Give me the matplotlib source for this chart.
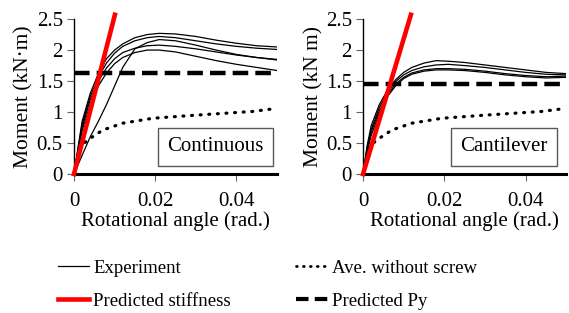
import numpy as np
import matplotlib
matplotlib.use("Agg")
import matplotlib.pyplot as plt
from matplotlib.lines import Line2D

plt.rcParams['font.family'] = ['Liberation Serif', 'DejaVu Serif']

# continuous beam experiments (rotation rad, moment kN.m)
x_cont = [0, 0.002, 0.004, 0.006, 0.008, 0.010, 0.012, 0.015, 0.018,
          0.021, 0.025, 0.030, 0.035, 0.040, 0.045, 0.050]
cont_a = [0, 0.85, 1.30, 1.62, 1.86, 2.00, 2.10, 2.20, 2.25, 2.27, 2.26, 2.22, 2.16, 2.11, 2.07, 2.05]
cont_b = [0, 0.80, 1.25, 1.56, 1.79, 1.95, 2.06, 2.15, 2.20, 2.22, 2.20, 2.15, 2.10, 2.06, 2.03, 2.01]
cont_c = [0, 0.30, 0.60, 0.85, 1.12, 1.42, 1.72, 2.02, 2.12, 2.17, 2.15, 2.08, 2.00, 1.93, 1.88, 1.84]
cont_d = [0, 0.75, 1.20, 1.50, 1.71, 1.86, 1.96, 2.03, 2.07, 2.08, 2.06, 2.02, 1.97, 1.92, 1.88, 1.85]
cont_e = [0, 0.70, 1.12, 1.42, 1.63, 1.78, 1.88, 1.96, 2.00, 2.00, 1.97, 1.90, 1.83, 1.77, 1.72, 1.67]

# cantilever experiments
x_cant = [0, 0.001, 0.002, 0.004, 0.006, 0.008, 0.010, 0.012, 0.015, 0.018,
          0.021, 0.025, 0.030, 0.035, 0.040, 0.045, 0.050]
cant_a = [0, 0.45, 0.78, 1.12, 1.35, 1.52, 1.64, 1.72, 1.79, 1.83, 1.82, 1.80, 1.76, 1.72, 1.68, 1.64, 1.62]
cant_b = [0, 0.42, 0.72, 1.07, 1.32, 1.49, 1.60, 1.67, 1.73, 1.76, 1.77, 1.75, 1.72, 1.68, 1.64, 1.61, 1.60]
cant_c = [0, 0.38, 0.68, 1.02, 1.28, 1.45, 1.56, 1.63, 1.68, 1.70, 1.70, 1.69, 1.66, 1.62, 1.59, 1.57, 1.58]
cant_d = [0, 0.35, 0.62, 0.98, 1.25, 1.42, 1.54, 1.61, 1.66, 1.68, 1.68, 1.67, 1.64, 1.60, 1.57, 1.55, 1.56]

# average without screw (same in both panels)
x_noscrew = [0, 0.0015, 0.0034, 0.0071, 0.012, 0.0194, 0.0236, 0.030, 0.037, 0.044, 0.050]
m_noscrew = [0, 0.44, 0.55, 0.71, 0.82, 0.90, 0.92, 0.95, 0.98, 1.01, 1.06]

# predicted values
k_cont, k_cant = 255, 218       # initial stiffness kN.m/rad
py_cont, py_cant = 1.63, 1.46   # predicted yield moment kN.m

panels = [
    ("Continuous", "Moment (kN·m)", x_cont, [cont_a, cont_b, cont_c, cont_d, cont_e], k_cont, py_cont),
    ("Cantilever", "Moment (kN m)", x_cant, [cant_a, cant_b, cant_c, cant_d], k_cant, py_cant),
]

fig = plt.figure(figsize=(5.69, 3.13), dpi=100)
lefts = [0.130, 0.638]

for (name, ylab, xs, curves, k, py), left in zip(panels, lefts):
    ax = fig.add_axes([left, 0.444, 0.357, 0.495])
    for c in curves:
        ax.plot(xs, c, color='black', lw=0.9)
    ax.plot(x_noscrew, m_noscrew, color='black', lw=2.3, linestyle=(0, (0.3, 2.4)),
            dash_capstyle='round')
    ax.plot([0, 0.05], [py, py], color='black', lw=3.2, linestyle=(0, (3.5, 1.6)))
    ymax = 2.57
    ax.plot([0, ymax / k], [0, ymax], color='red', lw=3.3, clip_on=False, zorder=5)

    ax.set_xlim(0, 0.05)
    ax.set_ylim(0, 2.5)
    ax.set_xticks([0, 0.02, 0.04])
    ax.set_xticklabels(['0', '0.02', '0.04'])
    ax.set_yticks([0, 0.5, 1, 1.5, 2, 2.5])
    ax.set_yticklabels(['0', '0.5', '1', '1.5', '2', '2.5'])
    ax.tick_params(axis='both', labelsize=15, length=5, width=0.8, color='0.4')
    ax.tick_params(axis='x', pad=8)
    ax.tick_params(axis='y', pad=3)
    for s in ['top', 'right']:
        ax.spines[s].set_visible(False)
    ax.spines['bottom'].set_linewidth(2.2)
    ax.spines['left'].set_linewidth(1.0)
    ax.set_xlabel("Rotational angle (rad.)", fontsize=15, labelpad=0)
    ax.set_ylabel(ylab, fontsize=15.5, labelpad=2)
    ax.text(0.695, 0.175, name, transform=ax.transAxes, fontsize=15, ha='center', va='center',
            bbox=dict(boxstyle='square,pad=0.45', fc='white', ec='0.35', lw=1))

handles = [
    Line2D([], [], color='black', lw=0.9),
    Line2D([], [], color='red', lw=3.3),
    Line2D([], [], color='black', lw=2, linestyle=(0, (0.3, 2.2)), dash_capstyle='round'),
    Line2D([], [], color='black', lw=3, linestyle=(0, (3, 1.5))),
]
labels = ["Experiment", "Predicted stiffness", "Ave. without screw", "Predicted Py"]
fig.legend(handles, labels, ncol=2, loc='upper left', bbox_to_anchor=(0.088, 0.195),
           frameon=False, fontsize=13.5, handlelength=1.7, handletextpad=0.2,
           columnspacing=3.5, labelspacing=0.85, borderaxespad=0)

fig.savefig("out.png", dpi=100)
